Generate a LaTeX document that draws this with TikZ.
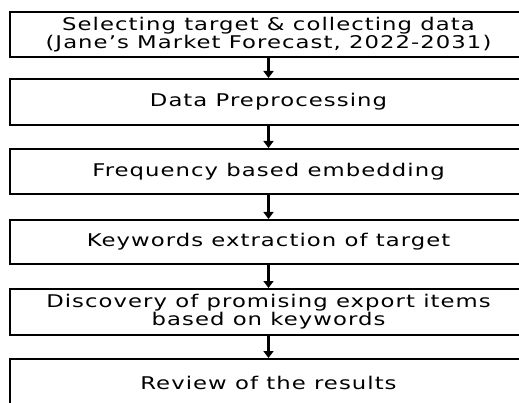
\documentclass[tikz,border=0pt]{standalone}
\usepackage{fontspec}
\setmainfont{DejaVu Sans}[FakeStretch=1.3,LetterSpace=6]
\usetikzlibrary{arrows.meta}
\begin{document}
\begin{tikzpicture}[x=1pt,y=-1pt,
  stepbox/.style={draw=black,line width=2pt,rectangle,minimum width=517pt,inner sep=0pt,
    align=center,font=\fontsize{17.5pt}{15.5pt}\selectfont},
  arr/.style={line width=2.6pt,-{Triangle[width=10pt,length=7pt]}}]
\useasboundingbox (0,0) rectangle (519,403);
\clip (0,0) rectangle (519,403);
\fill[white] (0,0) rectangle (519,403);
\node[stepbox,minimum height=45pt] (b1) at (268.5,34.5) {Selecting target \& collecting data\\(Jane’s Market Forecast, 2022-2031)};
\node[stepbox,minimum height=46pt] (b2) at (268.5,102) {Data Preprocessing};
\node[stepbox,minimum height=45pt] (b3) at (268.5,171.5) {Frequency based embedding};
\node[stepbox,minimum height=44pt] (b4) at (268.5,242) {Keywords extraction of target};
\node[stepbox,minimum height=46pt] (b5) at (268.5,312) {Discovery of promising export items\\based on keywords};
\node[stepbox,minimum height=47pt] (b6) at (268.5,382.5) {Review of the results};
\draw[arr] (b1.south) -- (b2.north);
\draw[arr] (b2.south) -- (b3.north);
\draw[arr] (b3.south) -- (b4.north);
\draw[arr] (b4.south) -- (b5.north);
\draw[arr] (b5.south) -- (b6.north);
\end{tikzpicture}
\end{document}
